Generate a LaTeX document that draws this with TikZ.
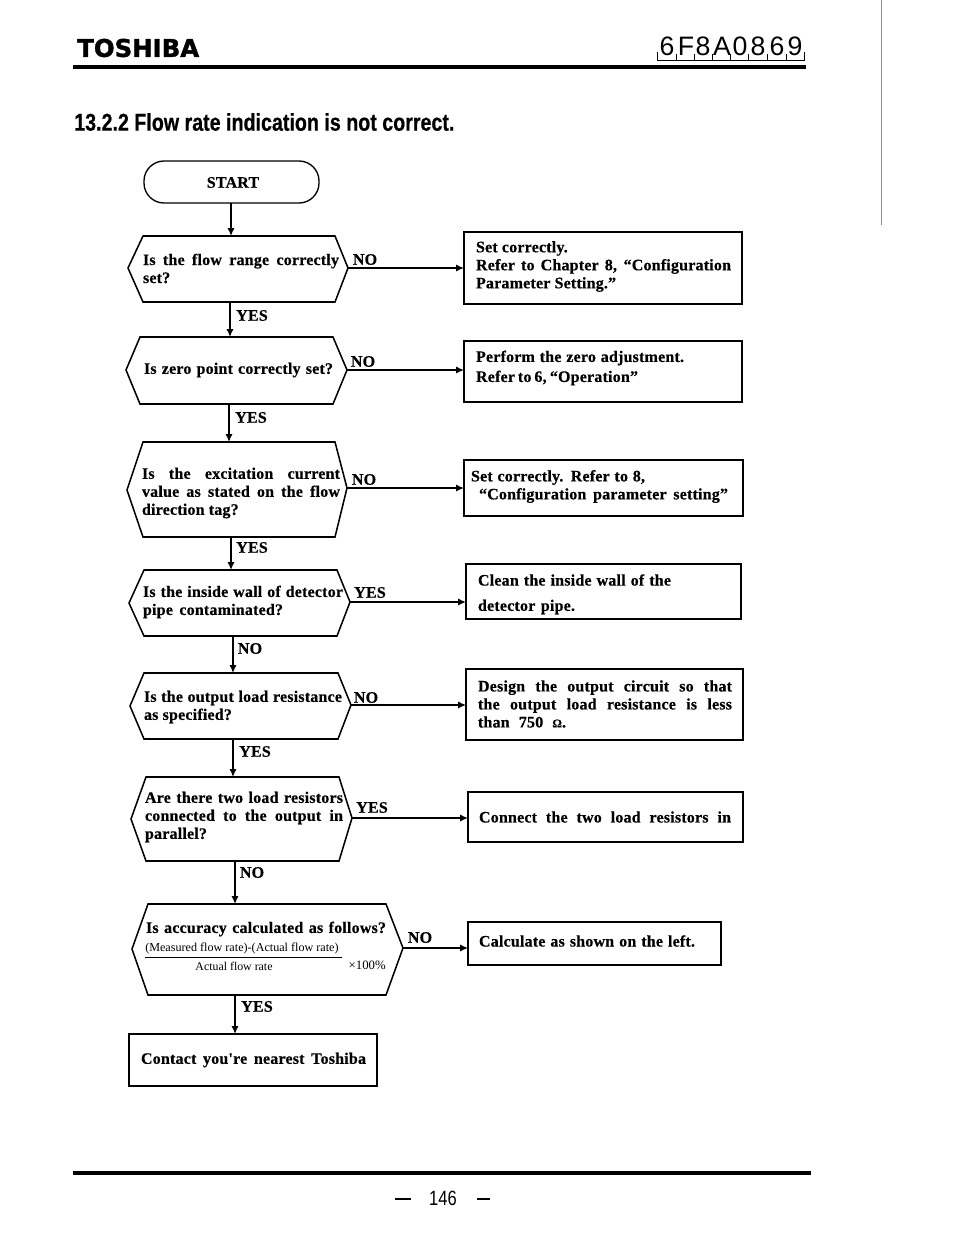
\documentclass[tikz,border=0pt]{standalone}
\usepackage{fontspec}
\usetikzlibrary{arrows.meta}
\setmainfont{Liberation Serif}
\newfontfamily\titlefont[FakeStretch=0.81,FakeBold=0.5]{Liberation Sans Bold}
\newfontfamily\logofont[FakeBold=1.5]{DejaVu Sans Bold}
\newfontfamily\codefont{Liberation Sans}
\newfontfamily\pagefont[FakeStretch=0.8]{Liberation Sans}
\newfontfamily\bodyfont[LetterSpace=1.2,FakeBold=0.4]{Liberation Serif Bold}
\newdimen\pxu \pxu=0.75pt
\newcommand{\jl}[2]{\makebox[#1\pxu][s]{#2}}
\newcommand{\hexa}[9]{%
  \coordinate (#1w) at (#2,#3);
  \coordinate (#1e) at (#6,#7);
  \draw[shape line] (#1w) -- (#4,#8) -- (#5,#8) -- (#1e) -- (#5,#9) -- (#4,#9) -- cycle;}
\tikzset{
  shape line/.style={line width=1.15pt,black,line join=miter},
  arr/.style={line width=1.1pt,-{Latex[length=6pt,width=5.5pt]},black},
  txt/.style={inner sep=0pt,outer sep=0pt,anchor=west,align=left,font=\bodyfont\fontsize{12}{13.5}\selectfont},
  lab/.style={inner sep=0pt,outer sep=0pt,font=\bodyfont\fontsize{12}{13.5}\selectfont},
  pbox/.style={draw,line width=1pt,inner sep=0pt,outer sep=0pt},
  rule/.style={line width=2.6pt,black}
}
\begin{document}
\begin{tikzpicture}[x=0.75pt,y=-0.75pt]
\useasboundingbox (0,0) rectangle (954,1235);
\fill[white] (0,0) rectangle (954,1235);
% page header
\node[inner sep=0pt,anchor=west] (logo) at (77,48) {\logofont\fontsize{18.3}{20}\selectfont TOSHIBA};
\draw[rule] (73,67) -- (806,67);
\foreach \c/\x in {6/667,F/686,8/703,A/722,0/740,8/758,6/777,9/795}{
  \node[inner sep=0pt] at (\x,46) {\codefont\fontsize{20}{20}\selectfont \c};
}
\draw[line width=0.5pt,black] (657,52) -- (657,60) -- (804,60) -- (804,52);
\foreach \x in {676,694,712,730,748,767,786}{\draw[line width=0.5pt,black] (\x,54) -- (\x,60);}
\draw[line width=0.6pt,black!45] (881,0) -- (881,225);
\node[inner sep=0pt,anchor=west] (title) at (74,122) {\titlefont\fontsize{18.2}{20}\selectfont 13.2.2 Flow rate indication is not correct.};
% start
\node[draw,line width=1pt,rounded corners=15pt,minimum width=131.25pt,minimum height=31.5pt,inner sep=0pt] (start) at (231.5,182) {};
\node[lab] (starttxt) at (233,182.5) {START};
\coordinate (s0) at (231,203);
% decisions
\hexa{d1}{128}{268}{143}{335}{348}{268}{236}{302}
\hexa{d2}{126}{370}{140}{333}{347}{370}{337}{404}
\hexa{d3}{127}{490}{143}{335}{347}{488}{442}{537}
\hexa{d4}{129}{603}{144}{337}{350}{602}{570}{636}
\hexa{d5}{130}{706}{144}{338}{351}{705}{673}{739}
\hexa{d6}{131}{819}{146}{339}{352}{818}{777}{861}
\hexa{d7}{132}{949}{148}{386}{403}{948}{904}{995}
\coordinate (d1n) at (231,236); \coordinate (d1s) at (230,302);
\coordinate (d2n) at (230,337); \coordinate (d2s) at (229,404);
\coordinate (d3n) at (229,442); \coordinate (d3s) at (231,537);
\coordinate (d4n) at (231,570); \coordinate (d4s) at (233,636);
\coordinate (d5n) at (233,673); \coordinate (d5s) at (233,739);
\coordinate (d6n) at (233,777); \coordinate (d6s) at (235,861);
\coordinate (d7n) at (235,904); \coordinate (d7s) at (235,995);
% boxes
\node[pbox,minimum width=208.5pt,minimum height=54pt] (b1) at (603,268) {};
\node[pbox,minimum width=208.5pt,minimum height=45.75pt] (b2) at (603,371.5) {};
\node[pbox,minimum width=209.25pt,minimum height=42pt] (b3) at (603.5,488) {};
\node[pbox,minimum width=206.25pt,minimum height=41.25pt] (b4) at (603.5,591.5) {};
\node[pbox,minimum width=207.75pt,minimum height=53.25pt] (b5) at (604.5,704.5) {};
\node[pbox,minimum width=206.25pt,minimum height=37.5pt] (b6) at (605.5,817) {};
\node[pbox,minimum width=189.75pt,minimum height=32.25pt] (b7) at (594.5,943.5) {};
\node[pbox,minimum width=186pt,minimum height=39pt] (b8) at (253,1060) {};
% decision texts
\node[txt] (t1) at (143,268.5) {\jl{196}{Is the flow range correctly}\\set?};
\node[txt] (t2) at (144,370) {\jl{189}{Is zero point correctly set?}};
\node[txt] (t3) at (142,493) {\jl{198}{Is the excitation current}\\\jl{198}{value as stated on the flow}\\direction tag?};
\node[txt] (t4) at (143,602) {\jl{200}{Is the inside wall of detector}\\\jl{140}{pipe contaminated?}};
\node[txt] (t5) at (144,707) {\jl{198}{Is the output load resistance}\\as specified?};
\node[txt] (t6) at (145,817) {\jl{198}{Are there two load resistors}\\\jl{198}{connected to the output in}\\parallel?};
\node[txt] (t7) at (146,929) {\jl{240}{Is accuracy calculated as follows?}};
\node[inner sep=0pt,anchor=west] (t7a) at (145,948.5) {\fontsize{9.1}{10}\selectfont (Measured flow rate)-(Actual flow rate)};
\node[inner sep=0pt] (t7b) at (234,966) {\fontsize{8.9}{10}\selectfont Actual flow rate};
\node[inner sep=0pt,anchor=east] (t7c) at (386,965.5) {\fontsize{9.6}{10}\selectfont ×100\%};
\draw[line width=0.7pt,black] (t7b |- 0,957) ++(-89,0) -- ++(197,0);
% box texts
\node[txt] (x1) at (476,266.5) {Set correctly.\\\jl{255}{Refer to Chapter 8, “Configuration}\\Parameter Setting.”};
\node[txt] (x2) at (476,368) {\jl{208}{Perform the zero adjustment.}\\[1.5pt]\jl{162}{Refer to 6, “Operation”}};
\node[txt] (x3) at (471,486.5) {\jl{174}{Set correctly. Refer to 8,}\\\hspace{6pt}\jl{249}{“Configuration parameter setting”}};
\node[txt] (x4a) at (478,580) {\jl{193}{Clean the inside wall of the}};
\node[txt] (x4b) at (478,607) {\jl{97}{detector pipe.}};
\node[txt] (x5) at (478,704) {\jl{254}{Design the output circuit so that}\\\jl{254}{the output load resistance is less}\\\jl{88}{than 750 {\fontsize{9}{10}\selectfont Ω}.}};
\node[txt] (x6) at (479,817) {\jl{252}{Connect the two load resistors in}};
\node[txt] (x7) at (479,941) {\jl{216}{Calculate as shown on the left.}};
\node[txt] (x8) at (141,1060) {\jl{225}{Contact you're nearest Toshiba}};
% connectors
\draw[arr] (s0) -- (s0 |- d1n);
\draw[arr] (d1s) -- (d1s |- d2n);
\draw[arr] (d2s) -- (d2s |- d3n);
\draw[arr] (d3s) -- (d3s |- d4n);
\draw[arr] (d4s) -- (d4s |- d5n);
\draw[arr] (d5s) -- (d5s |- d6n);
\draw[arr] (d6s) -- (d6s |- d7n);
\draw[arr] (d7s) -- (d7s |- b8.north);
\draw[arr] (d1e) -- (d1e -| b1.west);
\draw[arr] (d2e) -- (d2e -| b2.west);
\draw[arr] (d3e) -- (d3e -| b3.west);
\draw[arr] (d4e) -- (d4e -| b4.west);
\draw[arr] (d5e) -- (d5e -| b5.west);
\draw[arr] (d6e) -- (d6e -| b6.west);
\draw[arr] (d7e) -- (d7e -| b7.west);
% labels
\node[lab] (l1a) at (365,259.5) {NO};
\node[lab] (l1b) at (252,315.5) {YES};
\node[lab] (l2a) at (363,361.5) {NO};
\node[lab] (l2b) at (251,417.5) {YES};
\node[lab] (l3a) at (364,479.5) {NO};
\node[lab] (l3b) at (252,547.5) {YES};
\node[lab] (l4a) at (370,592.5) {YES};
\node[lab] (l4b) at (250,648.5) {NO};
\node[lab] (l5a) at (366,697.5) {NO};
\node[lab] (l5b) at (255,751.5) {YES};
\node[lab] (l6a) at (372,807.5) {YES};
\node[lab] (l6b) at (252,872.5) {NO};
\node[lab] (l7a) at (420,937.5) {NO};
\node[lab] (l7b) at (257,1006.5) {YES};
% footer
\draw[line width=3pt,black] (73,1173) -- (811,1173);
\draw[line width=0.9pt,black] (395,1199) -- (411,1199);
\draw[line width=0.9pt,black] (477,1199) -- (490,1199);
\node[inner sep=0pt] (pg) at (443,1198) {\pagefont\fontsize{15.5}{16}\selectfont 146};
\end{tikzpicture}
\end{document}
